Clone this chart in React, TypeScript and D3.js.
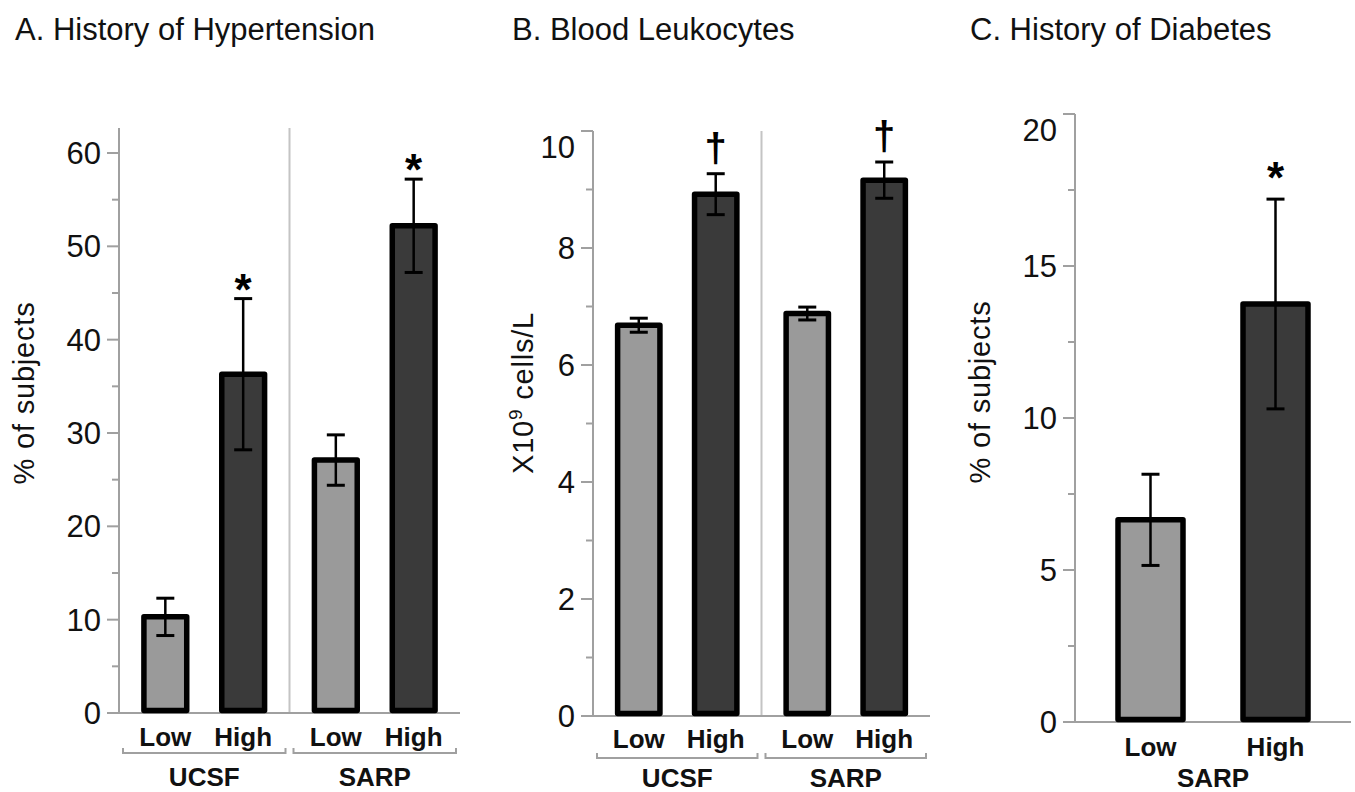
import * as d3 from 'd3';

// ---- data ----
const LEVELS = ['Low', 'High'];

const A_GROUPS = ['UCSF', 'SARP'];
const A_MEAN = [10.3, 36.3, 27.1, 52.2]; // UCSF Low, UCSF High, SARP Low, SARP High
const A_ERR = [2.0, 8.1, 2.7, 5.0];
const A_MARK = ['', '*', '', '*'];
const A_TICKS = [0, 10, 20, 30, 40, 50, 60];
const A_MINOR = [5, 15, 25, 35, 45, 55];

const B_GROUPS = ['UCSF', 'SARP'];
const B_MEAN = [6.68, 8.92, 6.88, 9.16];
const B_ERR = [0.12, 0.35, 0.11, 0.31];
const B_MARK = ['', '†', '', '†'];
const B_TICKS = [0, 2, 4, 6, 8, 10];
const B_MINOR = [1, 3, 5, 7, 9];

const C_GROUPS = ['SARP'];
const C_MEAN = [6.65, 13.75];
const C_ERR = [1.5, 3.45];
const C_MARK = ['', '*'];
const C_TICKS = [0, 5, 10, 15, 20];
const C_MINOR = [2.5, 7.5, 12.5, 17.5];

const FONT = '"Liberation Sans", Arial, Helvetica, sans-serif';
const LIGHT = '#9a9a9a';
const DARK = '#3a3a3a';
const AXIS = '#a0a0a0';
const SEP = '#c4c4c4';

interface PanelProps {
  title: string;
  titleX: number;
  groups: string[];
  means: number[];
  errs: number[];
  marks: string[];
  ticks: number[];
  minor: number[];
  vmax: number;
  axisX: number;
  right: number;
  zeroY: number;
  maxY: number;
  axisTop: number;
  yLabel: 'pct' | 'cells';
  yLabelX: number;
  yLabelY: number;
  padInner: number;
  padOuter: number;
  levelY: number;
  groupY: number;
  bracketY: number | null;
  markGap: number;
  markSize: number;
}

function Panel(p: PanelProps) {
  const y = d3.scaleLinear().domain([0, p.vmax]).range([p.zeroY, p.maxY]);
  const gx = d3.scaleBand<string>().domain(p.groups).range([p.axisX, p.right]);
  const ix = d3.scaleBand<string>()
    .domain(LEVELS)
    .range([0, gx.bandwidth()])
    .paddingInner(p.padInner)
    .paddingOuter(p.padOuter);
  const bw = ix.bandwidth();

  const bars = p.groups.flatMap((g, gi) =>
    LEVELS.map((lv, li) => {
      const i = gi * LEVELS.length + li;
      const x = (gx(g) ?? 0) + (ix(lv) ?? 0);
      return { g, lv, i, x, cx: x + bw / 2, v: p.means[i], e: p.errs[i], mark: p.marks[i] };
    })
  );

  return (
    <g fontFamily={FONT}>
      <text x={p.titleX} y={40} fontSize={31} fill="#111">{p.title}</text>

      {p.yLabel === 'pct' ? (
        <text transform={`translate(${p.yLabelX},${p.yLabelY}) rotate(-90)`}
          textAnchor="middle" fontSize={29} letterSpacing="0.8" fill="#111">
          % of subjects
        </text>
      ) : (
        <text transform={`translate(${p.yLabelX},${p.yLabelY}) rotate(-90)`}
          textAnchor="middle" fontSize={29} letterSpacing="0.8" fill="#111">
          X10<tspan dy={-11} fontSize={19}>9</tspan><tspan dy={11}> cells/L</tspan>
        </text>
      )}

      {/* separators between groups */}
      {p.groups.slice(1).map(g => (
        <line key={`sep${g}`} x1={gx(g)} x2={gx(g)} y1={p.axisTop} y2={p.zeroY}
          stroke={SEP} strokeWidth={2} />
      ))}

      {/* y axis */}
      <line x1={p.axisX} x2={p.axisX} y1={p.axisTop} y2={p.zeroY} stroke={AXIS} strokeWidth={2} />
      <line x1={p.axisX - 12} x2={p.right} y1={p.zeroY} y2={p.zeroY} stroke={AXIS} strokeWidth={2} />
      {p.ticks.map(t => (
        <g key={`t${t}`}>
          <line x1={p.axisX - 12} x2={p.axisX} y1={y(t)} y2={y(t)} stroke={AXIS} strokeWidth={2} />
          <text x={p.axisX - 18} y={Math.max(y(t), p.axisTop + 16)} dy="0.36em" textAnchor="end"
            fontSize={31} fill="#111">{t}</text>
        </g>
      ))}
      {p.minor.map(t => (
        <line key={`m${t}`} x1={p.axisX - 7} x2={p.axisX} y1={y(t)} y2={y(t)} stroke={AXIS} strokeWidth={2} />
      ))}

      {/* bars */}
      {bars.map(b => (
        <rect key={`b${b.i}`} x={b.x} y={y(b.v)} width={bw} height={p.zeroY - y(b.v) - 2.5}
          fill={b.lv === 'Low' ? LIGHT : DARK} stroke="#000" strokeWidth={5.5} strokeLinejoin="round" />
      ))}

      {/* error bars */}
      {bars.map(b => (
        <g key={`e${b.i}`} stroke="#000">
          <line x1={b.cx} x2={b.cx} y1={y(b.v + b.e)} y2={y(b.v - b.e)} strokeWidth={2.5} />
          <line x1={b.cx - 9} x2={b.cx + 9} y1={y(b.v + b.e)} y2={y(b.v + b.e)} strokeWidth={3} />
          <line x1={b.cx - 9} x2={b.cx + 9} y1={y(b.v - b.e)} y2={y(b.v - b.e)} strokeWidth={3} />
        </g>
      ))}

      {/* significance marks */}
      {bars.filter(b => b.mark).map(b => (
        <text key={`k${b.i}`} x={b.cx} y={y(b.v + b.e) - p.markGap} textAnchor="middle"
          fontSize={p.markSize} fontWeight="bold" fill="#000">{b.mark}</text>
      ))}

      {/* level labels */}
      {bars.map(b => (
        <text key={`l${b.i}`} x={b.cx} y={p.levelY} dy="0.36em" textAnchor="middle"
          fontSize={26} fontWeight="bold" fill="#111">{b.lv}</text>
      ))}

      {/* group brackets and labels */}
      {p.groups.map(g => {
        const gx0 = (gx(g) ?? 0) + 4;
        const gx1 = (gx(g) ?? 0) + gx.bandwidth() - 4;
        return (
          <g key={`g${g}`}>
            {p.bracketY !== null && (
              <path d={`M${gx0},${p.bracketY - 5}V${p.bracketY}H${gx1}V${p.bracketY - 5}`}
                fill="none" stroke={AXIS} strokeWidth={2} />
            )}
            <text x={(gx0 + gx1) / 2} y={p.groupY} dy="0.36em" textAnchor="middle"
              fontSize={26} fontWeight="bold" fill="#111">{g}</text>
          </g>
        );
      })}
    </g>
  );
}

export default function App() {
  return (
    <div style={{ position: 'absolute', left: 0, top: 0 }}>
      <svg width={1355} height={792} style={{ display: 'block', background: '#fff' }}>
        <Panel title="A. History of Hypertension" titleX={15}
          groups={A_GROUPS} means={A_MEAN} errs={A_ERR} marks={A_MARK}
          ticks={A_TICKS} minor={A_MINOR} vmax={60}
          axisX={119} right={460} zeroY={713} maxY={153} axisTop={128}
          yLabel="pct" yLabelX={34} yLabelY={393}
          padInner={0.45} padOuter={0.32}
          levelY={737} groupY={777} bracketY={753} markGap={-6} markSize={44} />
        <Panel title="B. Blood Leukocytes" titleX={512}
          groups={B_GROUPS} means={B_MEAN} errs={B_ERR} marks={B_MARK}
          ticks={B_TICKS} minor={B_MINOR} vmax={10}
          axisX={593} right={930} zeroY={716} maxY={131} axisTop={131}
          yLabel="cells" yLabelX={533} yLabelY={393}
          padInner={0.45} padOuter={0.32}
          levelY={739} groupY={778} bracketY={758} markGap={12} markSize={40} />
        <Panel title="C. History of Diabetes" titleX={970}
          groups={C_GROUPS} means={C_MEAN} errs={C_ERR} marks={C_MARK}
          ticks={C_TICKS} minor={C_MINOR} vmax={20}
          axisX={1075} right={1351} zeroY={722} maxY={114} axisTop={114}
          yLabel="pct" yLabelX={990} yLabelY={392}
          padInner={0.48} padOuter={0.344}
          levelY={747} groupY={778} bracketY={null} markGap={6} markSize={44} />
      </svg>
    </div>
  );
}
